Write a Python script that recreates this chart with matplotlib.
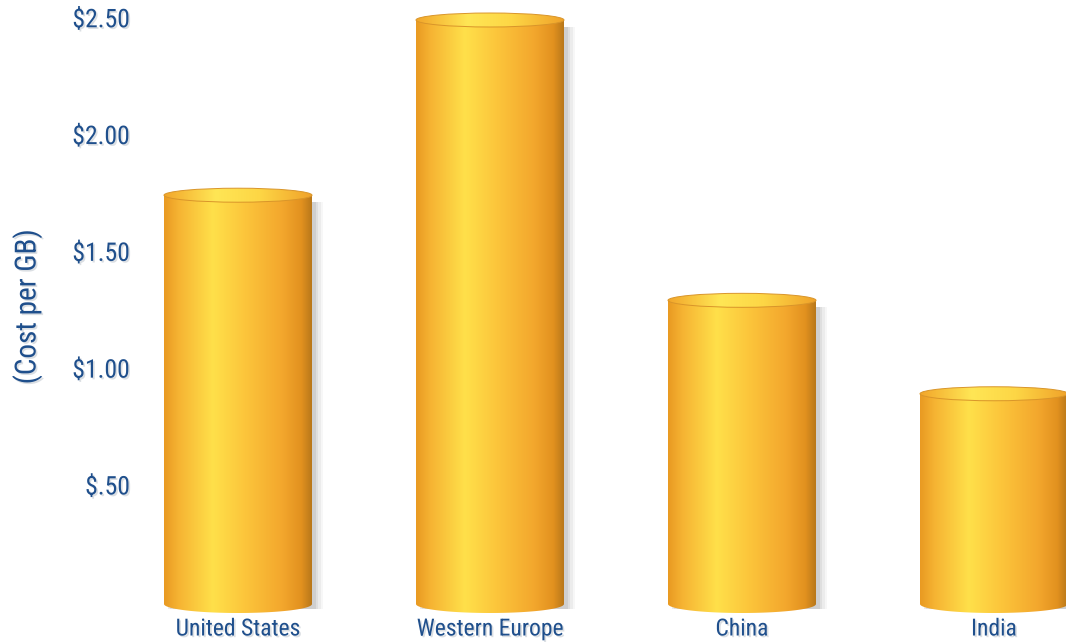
import matplotlib
matplotlib.use("Agg")
import matplotlib.pyplot as plt
import matplotlib.patheffects as pe
import numpy as np
from matplotlib.colors import LinearSegmentedColormap
from matplotlib.patches import Ellipse, PathPatch, Rectangle
from matplotlib.path import Path

regions = ["United States", "Western Europe", "China", "India"]
cost_per_gb = [1.75, 2.50, 1.30, 0.90]
tick_values = [0.5, 1.0, 1.5, 2.0, 2.5]
tick_labels = ["$.50", "$1.00", "$1.50", "$2.00", "$2.50"]

TEXT_BLUE = "#1f4f8c"
FONT = ["Roboto Condensed", "Archivo Narrow", "Liberation Sans Narrow",
        "Roboto", "DejaVu Sans"]
TEXT_FX = [pe.SimplePatchShadow(offset=(1.2, -1.2), shadow_rgbFace="#9aa4b0", alpha=0.35),
           pe.Normal()]

side_cmap = LinearSegmentedColormap.from_list("side", [
    (0.00, "#e99a22"), (0.10, "#f6b433"), (0.33, "#ffe04a"),
    (0.55, "#fcc53b"), (0.80, "#f3a72d"), (0.93, "#e2911f"), (1.00, "#b9781a")])
top_cmap = LinearSegmentedColormap.from_list("top", [
    (0.00, "#f2a62a"), (0.35, "#ffe655"), (0.65, "#fdd645"), (1.00, "#f0a22a")])

fig = plt.figure(figsize=(10.66, 6.42), dpi=100)
ax = fig.add_axes([140 / 1066, 0, 926 / 1066, 1])

px_per_unit_y = 233.6
ax.set_xlim(-98 / 252, 3 + 72 / 252)
ax.set_ylim(-38 / px_per_unit_y, 604 / px_per_unit_y)

width = 148 / 252
ry_top = 7 / px_per_unit_y     # half height of the top ellipse
ry_bot = 9 / px_per_unit_y     # half height of the bottom curve
x_pos = np.arange(len(regions))

bars = ax.bar(x_pos, cost_per_gb, width=width, color="none", edgecolor="none")

grad = np.linspace(0, 1, 256).reshape(1, -1)
for rect in bars:
    x0 = rect.get_x()
    w = rect.get_width()
    h = rect.get_height()
    xc = x0 + w / 2

    # soft shadow on the right
    for dx, a in [(0.045, 0.04), (0.035, 0.06), (0.025, 0.08), (0.015, 0.10)]:
        ax.add_patch(Rectangle((x0 + dx, -ry_bot * 0.5), w, h - ry_top * 0.3,
                               facecolor="#4a4a4a", edgecolor="none", alpha=a, zorder=1))

    # cylinder side: rect + bottom half ellipse
    t = np.linspace(np.pi, 2 * np.pi, 60)
    bottom = np.column_stack([xc + w / 2 * np.cos(t), ry_bot * np.sin(t)])
    verts = np.vstack([[x0, h], bottom, [x0 + w, h], [x0, h]])
    codes = [Path.MOVETO] + [Path.LINETO] * (len(verts) - 2) + [Path.CLOSEPOLY]
    body = PathPatch(Path(verts, codes), facecolor="none", edgecolor="none")
    ax.add_patch(body)
    im = ax.imshow(grad, cmap=side_cmap, aspect="auto",
                   extent=[x0, x0 + w, -ry_bot, h], zorder=2, interpolation="bicubic")
    im.set_clip_path(body)

    top = Ellipse((xc, h), w, 2 * ry_top, facecolor="none", edgecolor="none")
    ax.add_patch(top)
    im2 = ax.imshow(grad, cmap=top_cmap, aspect="auto",
                    extent=[x0, x0 + w, h - ry_top, h + ry_top], zorder=3,
                    interpolation="bicubic")
    im2.set_clip_path(top)
    ax.add_patch(Ellipse((xc, h), w, 2 * ry_top, facecolor="none",
                         edgecolor="#d9952a", lw=0.7, zorder=4))

for spine in ax.spines.values():
    spine.set_visible(False)
ax.set_xticks([])
ax.set_yticks([])

for v, lab in zip(tick_values, tick_labels):
    ax.annotate(lab, xy=(0, v), xycoords=("figure fraction", "data"),
                xytext=(130, 0), textcoords="offset pixels", ha="right", va="center",
                fontsize=18.5, color=TEXT_BLUE, family=FONT, path_effects=TEXT_FX)

for x, lab in zip(x_pos, regions):
    ax.annotate(lab, xy=(x, 0), xycoords=("data", "figure fraction"),
                xytext=(0, 13), textcoords="offset pixels", ha="center", va="center",
                fontsize=17, color=TEXT_BLUE, family=FONT, path_effects=TEXT_FX)

fig.text(27 / 1066, 1 - 307 / 642, "(Cost per GB)", rotation=90, ha="center", va="center",
         fontsize=21, color=TEXT_BLUE, family=FONT, path_effects=TEXT_FX)

fig.savefig("out.png", dpi=100)
